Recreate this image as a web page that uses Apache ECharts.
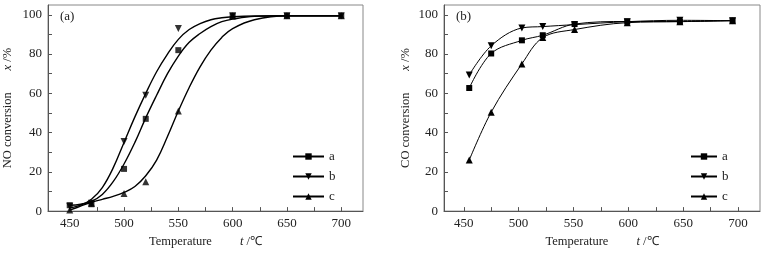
<!DOCTYPE html>
<html><head><meta charset="utf-8">
<script src="https://cdn.jsdelivr.net/npm/echarts@6/dist/echarts.min.js"></script>
<style>html,body{margin:0;padding:0;background:#fff}#c{width:766px;height:253px}</style>
</head><body><div id="c"></div>
<script>
// Panel (a): NO conversion, measured points
const tempA = [450, 470, 500, 520, 550, 600, 650, 700];
const noA = [3, 3.5, 21.5, 47, 82, 99.5, 99.5, 99.5];
const noB = [2.5, 4, 35.5, 59, 93, 99.5, 99.5, 99.5];
const noC = [0.5, 4, 9, 15, 51, 99.5, 99.5, 99.5];
// Panel (a): fitted curves
const fitT = [450, 460, 470, 480, 490, 500, 510, 520, 530, 540, 550, 560, 570, 580, 590, 600, 620, 650, 700];
const fitA = [3, 3.5, 5, 8.5, 15, 24, 35, 47.5, 59, 70, 79, 86, 90.5, 94, 96.5, 97.8, 99.2, 99.5, 99.5];
const fitB = [1.5, 3, 6, 12, 22, 35, 48, 60, 71, 80, 87.5, 92.5, 95.5, 97.5, 98.5, 99, 99.4, 99.5, 99.5];
const fitC = [0.5, 2.5, 4.5, 6, 7.5, 9.5, 12.5, 18, 26, 38, 51, 63, 73.5, 82, 88.5, 93, 97.5, 99.5, 99.5];
// Panel (b): CO conversion
const tempB = [455, 475, 503, 522, 551, 599, 647, 695];
const coA = [62.7, 80.3, 87, 89.6, 95.3, 96.6, 96.6, 97.1];
const coB = [69.4, 84.2, 93.3, 94, 95, 96.5, 97.2, 97];
const coC = [26, 50.4, 75, 88.4, 92.5, 96, 96.5, 97];
// Axis ticks and labels
const xTicks = [450, 475, 500, 525, 550, 575, 600, 625, 650, 675, 700];
const xLabels = [450, 500, 550, 600, 650, 700];
const yTicks = [0, 10, 20, 30, 40, 50, 60, 70, 80, 90, 100];
const yLabels = [0, 20, 40, 60, 80, 100];
const legendNames = ['a', 'b', 'c'];

const FONT = 'Liberation Serif';
const AX = '#555';
const zip = (xs, ys) => xs.map((x, i) => [x, ys[i]]);

function xAxis(gi, min) {
  return {
    type: 'value', gridIndex: gi, min: min, max: 720,
    axisLine: { onZero: false, lineStyle: { color: AX, width: 1 } },
    axisTick: { inside: true, length: 4, customValues: xTicks, lineStyle: { color: AX } },
    axisLabel: { customValues: xLabels, margin: 6, color: '#222', fontFamily: FONT, fontSize: 13 },
    splitLine: { show: false },
    name: 'Temperature         {i|t} /\u2103', nameLocation: 'middle', nameGap: 22,
    nameTextStyle: { color: '#222', fontFamily: FONT, fontSize: 12.5,
      rich: { i: { fontStyle: 'italic', fontFamily: FONT, fontSize: 12.5, color: '#222' } } }
  };
}
function yAxis(gi, title, gap) {
  return {
    type: 'value', gridIndex: gi, min: 0, max: 105,
    axisLine: { onZero: false, lineStyle: { color: AX, width: 1 } },
    axisTick: { inside: true, length: 4, customValues: yTicks, lineStyle: { color: AX } },
    axisLabel: { customValues: yLabels, margin: 6, color: '#222', fontFamily: FONT, fontSize: 13 },
    splitLine: { show: false },
    name: title + '       {i|x} /%', nameLocation: 'middle', nameGap: gap,
    nameTextStyle: { color: '#222', fontFamily: FONT, fontSize: 12.5,
      rich: { i: { fontStyle: 'italic', fontFamily: FONT, fontSize: 12.5, color: '#222' } } }
  };
}
const marks = {
  a: { symbol: 'rect', symbolRotate: 0, size: 6 },
  b: { symbol: 'triangle', symbolRotate: 180, size: 7 },
  c: { symbol: 'triangle', symbolRotate: 0, size: 7 }
};
function curve(name, xs, ys, gi, width, smooth, showSym) {
  const m = marks[name];
  return {
    type: 'line', name: name, xAxisIndex: gi, yAxisIndex: gi, data: zip(xs, ys),
    smooth: smooth, symbol: m.symbol, symbolRotate: m.symbolRotate, symbolSize: m.size,
    showSymbol: showSym, color: '#000',
    lineStyle: { color: '#000', width: width }, itemStyle: { color: '#000' }, z: 2
  };
}
function pts(name, xs, ys, gi) {
  const m = marks[name];
  return {
    type: 'scatter', name: 'p' + name, xAxisIndex: gi, yAxisIndex: gi, data: zip(xs, ys),
    symbol: m.symbol, symbolRotate: m.symbolRotate, symbolSize: m.size,
    itemStyle: { color: '#000' }, z: 3
  };
}
function legend(left, width) {
  return {
    data: legendNames, orient: 'vertical', left: left, top: 150, padding: 0,
    itemWidth: width, itemHeight: 8, itemGap: 7, itemTextGap: 6, selectedMode: false,
    textStyle: { color: '#222', fontFamily: FONT, fontSize: 13 }
  };
}

const chart = echarts.init(document.getElementById('c'));
chart.setOption({
  animation: false,
  backgroundColor: '#fff',
  title: [
    { text: '(a)', left: 60, top: 10, padding: 0, textStyle: { fontFamily: FONT, fontSize: 13, fontWeight: 'normal', color: '#222' } },
    { text: '(b)', left: 456, top: 10, padding: 0, textStyle: { fontFamily: FONT, fontSize: 13, fontWeight: 'normal', color: '#222' } }
  ],
  legend: [legend(292, 31), legend(690, 26)],
  grid: [
    { left: 48, right: 403, top: 5, bottom: 39, show: true, borderColor: '#888', borderWidth: 1 },
    { left: 444, right: 6, top: 5, bottom: 39, show: true, borderColor: '#888', borderWidth: 1 }
  ],
  xAxis: [xAxis(0, 430), xAxis(1, 432)],
  yAxis: [yAxis(0, 'NO conversion', 34), yAxis(1, 'CO conversion', 32)],
  series: [
    curve('a', fitT, fitA, 0, 1.4, 0.4, false),
    curve('b', fitT, fitB, 0, 1.4, 0.4, false),
    curve('c', fitT, fitC, 0, 1.4, 0.4, false),
    pts('a', tempA, noA, 0),
    pts('b', tempA, noB, 0),
    pts('c', tempA, noC, 0),
    curve('a', tempB, coA, 1, 1, 0.35, true),
    curve('b', tempB, coB, 1, 1, 0.35, true),
    curve('c', tempB, coC, 1, 1, 0.35, true)
  ]
});
</script></body></html>
